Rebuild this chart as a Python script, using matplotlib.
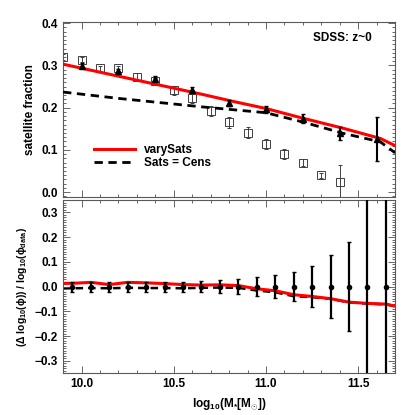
import numpy as np
import matplotlib
matplotlib.use("Agg")
import matplotlib.pyplot as plt
from matplotlib.ticker import MultipleLocator

plt.rcParams['font.family'] = ['Liberation Sans', 'DejaVu Sans']
plt.rcParams['font.weight'] = 'bold'
plt.rcParams['mathtext.fontset'] = 'custom'
plt.rcParams['mathtext.rm'] = 'Liberation Sans:bold'
plt.rcParams['mathtext.it'] = 'Liberation Sans:bold'
plt.rcParams['mathtext.bf'] = 'Liberation Sans:bold'

# --- top panel: satellite fraction ---
model_x = [9.9, 10.65, 10.82, 11.0, 11.2, 11.42, 11.62, 11.7]
vary_sats = [0.303, 0.232, 0.215, 0.198, 0.175, 0.151, 0.127, 0.110]
sats_cens_x = [9.9, 10.2, 10.65, 11.0, 11.2, 11.42, 11.62, 11.7]
sats_cens = [0.237, 0.222, 0.202, 0.188, 0.166, 0.139, 0.119, 0.093]

tri_x = [10.0, 10.2, 10.4, 10.6, 10.8, 11.0, 11.2, 11.4, 11.6]
tri_y = [0.299, 0.287, 0.269, 0.243, 0.212, 0.196, 0.174, 0.139, 0.125]
tri_err = [0.006, 0.005, 0.006, 0.006, 0.007, 0.008, 0.010, 0.016, 0.052]

sq_x = [9.9, 10.0, 10.1, 10.2, 10.3, 10.4, 10.5, 10.6, 10.7, 10.8, 10.9, 11.0, 11.1, 11.2, 11.3, 11.4]
sq_y = [0.320, 0.314, 0.293, 0.293, 0.273, 0.263, 0.241, 0.222, 0.192, 0.165,
        0.141, 0.114, 0.090, 0.070, 0.040, 0.023]
sq_err = [0.006, 0.006, 0.005, 0.006, 0.008, 0.008, 0.010, 0.010, 0.012, 0.013,
          0.013, 0.012, 0.012, 0.008, 0.006, 0.040]

# --- bottom panel: residuals ---
res_x = [9.95, 10.05, 10.15, 10.25, 10.35, 10.45, 10.55, 10.65, 10.75,
         10.85, 10.95, 11.05, 11.15, 11.25, 11.35, 11.45, 11.55, 11.65]
res_err = [0.02, 0.02, 0.02, 0.02, 0.02, 0.02, 0.02, 0.022, 0.028,
           0.032, 0.039, 0.045, 0.06, 0.082, 0.128, 0.179, 0.6, 0.6]
res_vary_x = [9.9] + res_x + [11.7]
res_vary = [0.013, 0.013, 0.017, 0.008, 0.017, 0.015, 0.012, 0.008, 0.006, 0.007,
            0.004, -0.009, -0.017, -0.033, -0.040, -0.049, -0.063, -0.068, -0.071, -0.079]
res_cens = [-0.007, -0.007, -0.006, -0.007, -0.005, -0.006, -0.006, -0.007, -0.005, -0.004,
            -0.005, -0.016, -0.023, -0.039, -0.043, -0.050, -0.064, -0.069, -0.072, -0.080]

fig = plt.figure(figsize=(4.15, 4.15), dpi=100)
ax1 = fig.add_axes([0.152, 0.525, 0.8, 0.422])
ax2 = fig.add_axes([0.152, 0.101, 0.8, 0.417])

for ax in (ax1, ax2):
    ax.set_xlim(9.9, 11.7)
    ax.xaxis.set_major_locator(MultipleLocator(0.5))
    ax.xaxis.set_minor_locator(MultipleLocator(0.1))
    ax.yaxis.set_major_locator(MultipleLocator(0.1))
    ax.yaxis.set_minor_locator(MultipleLocator(0.01))
    ax.tick_params(which='both', direction='in', top=True, right=True,
                   labelsize=8.5, width=0.6, color='0.3')
    ax.tick_params(which='major', length=5)
    ax.tick_params(which='minor', length=2.5)
    for s in ax.spines.values():
        s.set_linewidth(0.8)
        s.set_color('0.35')

# top
ax1.errorbar(sq_x, sq_y, yerr=sq_err, fmt='s', mfc='none', mec='0.25', ms=5.5,
             mew=0.7, ecolor='0.25', elinewidth=0.7, capsize=1.5, zorder=2)
ax1.errorbar(tri_x, tri_y, yerr=tri_err, fmt='^', color='black', ms=4,
             elinewidth=1.5, capsize=1.5, zorder=4)
ax1.plot(model_x, vary_sats, color='#ff0000', lw=2.2, label='varySats', zorder=3)
ax1.plot(sats_cens_x, sats_cens, color='black', lw=2, ls=(0, (3, 2)), label='Sats = Cens', zorder=3)
ax1.set_ylim(-0.012, 0.403)
ax1.set_xticklabels([])
ax1.set_ylabel('satellite fraction', fontsize=8.5, fontweight='bold')
ax1.text(0.93, 0.91, 'SDSS: z~0', transform=ax1.transAxes, ha='right', va='center',
         fontsize=8.5, fontweight='bold')
ax1.legend(loc='lower left', bbox_to_anchor=(0.06, 0.1), frameon=False, fontsize=8.5,
           handlelength=3.5, handletextpad=0.8, labelspacing=0.05)

# bottom
ax2.plot(res_vary_x, res_vary, color='#ff0000', lw=2.2, zorder=2)
ax2.plot(res_vary_x, res_cens, color='black', lw=1.8, ls=(0, (3, 2)), zorder=1)
ax2.errorbar(res_x, np.zeros(len(res_x)), yerr=res_err, fmt='o', color='black', ms=3,
             elinewidth=1.6, capsize=1.5, zorder=3)
ax2.set_ylim(-0.35, 0.35)
ax2.set_xlabel(r'log$_{10}$(M$_{*}$[M$_{\odot}$])', fontsize=8.5, fontweight='bold')
ax2.set_ylabel(r'($\Delta$ log$_{10}$($\phi$)) / log$_{10}$($\phi_{data}$)', fontsize=7.5,
               fontweight='bold')

fig.savefig('out.png', dpi=100)
